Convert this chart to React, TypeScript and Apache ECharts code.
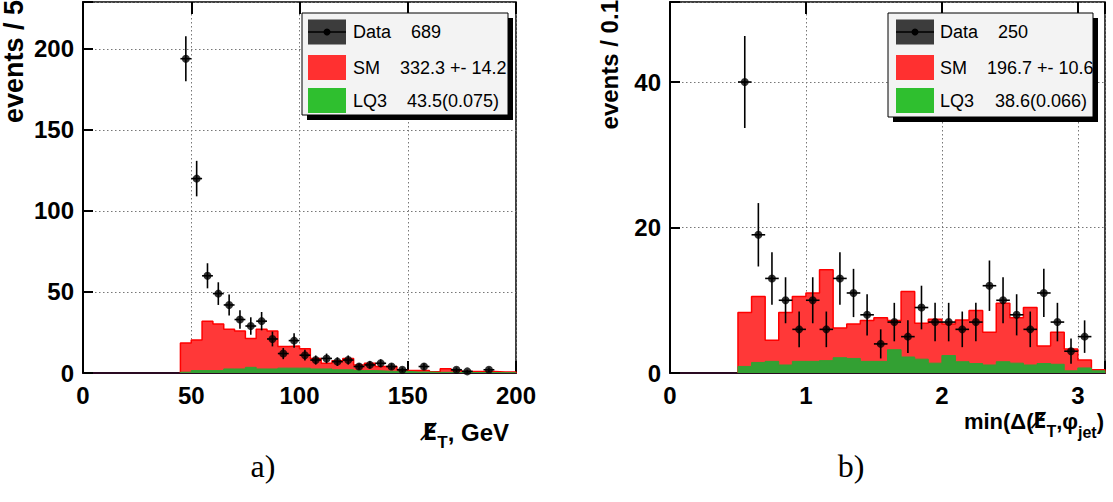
import React, { useEffect, useRef } from "react";
import * as echarts from "echarts";

// ---------- Left panel: missing ET ----------
const etBinWidth = 5;
const etBinLow = [45, 50, 55, 60, 65, 70, 75, 80, 85, 90, 95, 100, 105, 110, 115, 120, 125, 130, 135, 140, 145, 150, 155, 160, 165, 170, 175, 180, 185, 190, 195];
const etSM = [18.5, 20.3, 32, 30.2, 27, 26, 21.3, 27, 26, 16.4, 16.6, 15, 9, 6, 7.5, 9, 5, 6, 4, 4, 2, 1.5, 1.5, 0.7, 2.7, 1.5, 1, 1, 1, 0.6, 0.6];
const etLQ3 = [0.5, 1.5, 1.5, 1.5, 2.5, 2.5, 3.5, 2.5, 2.5, 3, 3, 3, 2.5, 2.5, 2, 2, 1.5, 1.5, 1.2, 1, 1, 0.6, 0.6, 0.4, 0.4, 0.3, 0.3, 0.3, 0.3, 0.2, 0.2];
const etDataX = [47.5, 52.5, 57.5, 62.5, 67.5, 72.5, 77.5, 82.5, 87.5, 92.5, 97.5, 102.5, 107.5, 112.5, 117.5, 122.5, 127.5, 132.5, 137.5, 142.5, 147.5, 157.5, 172.5, 177.5, 187.5];
const etDataY = [194, 120, 60, 49, 42, 33, 29, 32, 21, 12, 20, 11, 8, 9, 7, 8, 4, 5, 6, 4, 2, 4, 2, 1, 2];
const etTicks = ["0", "50", "100", "150", "200"];

// ---------- Right panel: min delta phi ----------
const dphiBinWidth = 0.1;
const dphiBinLow = [0.5, 0.6, 0.7, 0.8, 0.9, 1.0, 1.1, 1.2, 1.3, 1.4, 1.5, 1.6, 1.7, 1.8, 1.9, 2.0, 2.1, 2.2, 2.3, 2.4, 2.5, 2.6, 2.7, 2.8, 2.9, 3.0, 3.1];
const dphiSM = [8.3, 10.5, 4.5, 8.3, 10.5, 11, 14.2, 6.2, 6.75, 7.2, 7.6, 7.2, 11.2, 6.85, 7.4, 6.75, 7.3, 8.6, 5.6, 9.6, 7.6, 9.0, 3.7, 5.6, 3.3, 1.8, 0.45];
const dphiLQ3 = [0.9, 1.45, 1.6, 1.1, 1.6, 1.6, 1.7, 2.1, 2.0, 1.6, 1.6, 3.2, 2.2, 1.9, 1.35, 2.4, 1.55, 1.3, 1.1, 1.55, 1.35, 1.1, 1.3, 1.2, 0.3, 0.7, 0.3];
const dphiDataX = [0.55, 0.65, 0.75, 0.85, 0.95, 1.05, 1.15, 1.25, 1.35, 1.45, 1.55, 1.65, 1.75, 1.85, 1.95, 2.05, 2.15, 2.25, 2.35, 2.45, 2.55, 2.65, 2.75, 2.85, 2.95, 3.05];
const dphiDataY = [40, 19, 13, 10, 6, 10, 6, 13, 11, 8, 4, 7, 5, 9, 7, 7, 6, 7, 12, 10, 8, 6, 11, 7, 3, 5];
const dphiTicks = ["0", "1", "2", "3"];

// ---------- Legend texts ----------
const legendLeft = [["Data", "689"], ["SM", "332.3 +- 14.2"], ["LQ3", "43.5(0.075)"]];
const legendRight = [["Data", "250"], ["SM", "196.7 +- 10.6"], ["LQ3", "38.6(0.066)"]];

const RED_FILL = "#ff3838";
const RED_LINE = "#ff0000";
const GREEN_FILL = "#33a033";
const FONT_FAMILY = '"Liberation Sans", Arial, "DejaVu Sans", sans-serif';
const DV = '"DejaVu Sans Condensed", "DejaVu Sans", sans-serif';
const BOLD = `bold 24px ${FONT_FAMILY}`;
const ESLASH = "E\u0338";

function stepData(lows: number[], width: number, vals: number[]) {
  const d: number[][] = [[lows[0], 0]];
  lows.forEach((x, i) => d.push([x, vals[i]]));
  const end = lows[lows.length - 1] + width;
  d.push([end, vals[vals.length - 1]]);
  d.push([end, 0]);
  return d;
}

function errData(xs: number[], ys: number[], halfW: number) {
  return xs.map((x, i) => [x, ys[i], Math.sqrt(ys[i]), halfW]);
}

function errRender(params: any, api: any) {
  const x = api.value(0);
  const y = api.value(1);
  const e = api.value(2);
  const hw = api.value(3);
  const top = api.coord([x, y + e]);
  const bot = api.coord([x, Math.max(0, y - e)]);
  const l = api.coord([x - hw, y]);
  const r = api.coord([x + hw, y]);
  const st = { stroke: "#000", lineWidth: 1.6 };
  return {
    type: "group",
    children: [
      { type: "line", shape: { x1: top[0], y1: top[1], x2: bot[0], y2: bot[1] }, style: st },
      { type: "line", shape: { x1: l[0], y1: l[1], x2: r[0], y2: r[1] }, style: st },
    ],
  };
}

function xAxisCfg(gridIndex: number, min: number, max: number, interval: number, labels: string[], top: boolean) {
  return {
    type: "value",
    gridIndex,
    position: top ? "top" : "bottom",
    min,
    max,
    interval,
    axisLine: { show: !top, lineStyle: { color: "#2a0a22", width: 2 } },
    axisTick: { show: true, inside: true, length: 12, lineStyle: { color: "#000", width: 2 } },
    axisLabel: {
      show: !top,
      margin: 10,
      color: "#000",
      fontFamily: FONT_FAMILY,
      fontWeight: "bold",
      fontSize: 24,
      formatter: (v: number) => {
        const idx = Math.round(v / interval);
        return Math.abs(v - idx * interval) < 1e-6 && labels[idx] !== undefined ? labels[idx] : "";
      },
    },
    splitLine: {
      show: !top,
      lineStyle: { color: "#777", type: [1.5, 2.5], width: 1 },
    },
  };
}

function yAxisCfg(gridIndex: number, max: number, interval: number) {
  return {
    type: "value",
    gridIndex,
    min: 0,
    max,
    interval,
    axisLine: { show: true, lineStyle: { color: "#000", width: 2 } },
    axisTick: { show: true, inside: true, length: 10, lineStyle: { color: "#000", width: 2 } },
    axisLabel: {
      margin: 9,
      color: "#000",
      fontFamily: FONT_FAMILY,
      fontWeight: "bold",
      fontSize: 24,
      padding: [7, 0, 0, 0],
      formatter: (v: number) => (Math.abs(v / interval - Math.round(v / interval)) < 1e-6 ? String(v) : ""),
    },
    splitLine: { show: true, lineStyle: { color: "#777", type: [1.5, 2.5], width: 1 } },
  };
}

function legendGraphic(bx: number, by: number, bw: number, bh: number, swX: number, txtX: number, valX: number[], rows: string[][]) {
  const rowY = [32, 67.5, 100.5];
  const items: any[] = [
    { type: "rect", z: 100, shape: { x: bx + 5, y: by + 5, width: bw, height: bh }, style: { fill: "#000" } },
    { type: "rect", z: 101, shape: { x: bx, y: by, width: bw, height: bh }, style: { fill: "#f3f3f3", stroke: "#000", lineWidth: 1 } },
    { type: "rect", z: 102, shape: { x: swX, y: rowY[0] - 12.5, width: 38, height: 25 }, style: { fill: "#3c3c3c" } },
    { type: "line", z: 103, shape: { x1: swX, y1: rowY[0], x2: swX + 38, y2: rowY[0] }, style: { stroke: "#000", lineWidth: 1.5 } },
    { type: "circle", z: 103, shape: { cx: swX + 19, cy: rowY[0], r: 3.5 }, style: { fill: "#000" } },
    { type: "rect", z: 102, shape: { x: swX, y: rowY[1] - 12.5, width: 38, height: 25 }, style: { fill: "#ff3030" } },
    { type: "rect", z: 102, shape: { x: swX, y: rowY[2] - 12.5, width: 38, height: 25 }, style: { fill: "#2fbf2f" } },
  ];
  rows.forEach((r, i) => {
    items.push({
      type: "text", z: 103, x: txtX, y: rowY[i],
      style: { text: r[0], font: `18px ${FONT_FAMILY}`, fill: "#000", align: "left", verticalAlign: "middle", textAlign: "left", textVerticalAlign: "middle" },
    });
    items.push({
      type: "text", z: 103, x: valX[i], y: rowY[i],
      style: { text: r[1], font: `18px ${FONT_FAMILY}`, fill: "#000", align: "left", verticalAlign: "middle", textAlign: "left", textVerticalAlign: "middle" },
    });
  });
  return items;
}

function txt(x: number, y: number, text: string, font: string, align = "left", extra: any = {}) {
  return {
    type: "text", z: 110, x, y, ...extra,
    style: { text, font, fill: "#000", align, verticalAlign: "middle", textAlign: align, textVerticalAlign: "middle" },
  };
}

let measureCtx: CanvasRenderingContext2D | null = null;
function textWidth(text: string, font: string) {
  if (!measureCtx) measureCtx = document.createElement("canvas").getContext("2d");
  if (!measureCtx) return text.length * 12;
  measureCtx.font = font;
  return measureCtx.measureText(text).width;
}

// parts: [text, font, dy]
function chainRight(endX: number, y: number, parts: [string, string, number][]) {
  const widths = parts.map((p) => textWidth(p[0], p[1]));
  let x = endX - widths.reduce((a, b) => a + b, 0);
  const els: any[] = [];
  parts.forEach((p, i) => {
    els.push(txt(x, y + p[2], p[0], p[1]));
    x += widths[i];
  });
  return els;
}

export default function App() {
  const ref = useRef<HTMLDivElement>(null);
  useEffect(() => {
    if (!ref.current) return;
    const chart = echarts.init(ref.current, null, { renderer: "svg" });
    const sub = `bold 16px ${FONT_FAMILY}`;
    const mid = `bold 22px ${FONT_FAMILY}`;
    const option: any = {
      animation: false,
      backgroundColor: "#fff",
      grid: [
        { left: 83, top: 2, width: 433, height: 371, show: true, borderColor: "#000", borderWidth: 1.5, backgroundColor: "transparent" },
        { left: 670, top: 2, width: 435, height: 371, show: true, borderColor: "#000", borderWidth: 1.5, backgroundColor: "transparent" },
      ],
      xAxis: [
        xAxisCfg(0, 0, 200, 50, etTicks, false),
        xAxisCfg(0, 0, 200, 50, etTicks, true),
        xAxisCfg(1, 0, 3.2, 1, dphiTicks, false),
        xAxisCfg(1, 0, 3.2, 1, dphiTicks, true),
      ],
      yAxis: [yAxisCfg(0, 229, 50), yAxisCfg(1, 51, 20)],
      series: [
        {
          type: "line", xAxisIndex: 0, yAxisIndex: 0, step: "end", symbol: "none",
          data: stepData(etBinLow, etBinWidth, etSM),
          lineStyle: { color: RED_LINE, width: 1.5 }, areaStyle: { color: RED_FILL, opacity: 1 }, z: 2,
        },
        {
          type: "line", xAxisIndex: 0, yAxisIndex: 0, step: "end", symbol: "none",
          data: stepData(etBinLow, etBinWidth, etLQ3),
          lineStyle: { color: GREEN_FILL, width: 1 }, areaStyle: { color: GREEN_FILL, opacity: 1 }, z: 3,
        },
        {
          type: "custom", xAxisIndex: 0, yAxisIndex: 0, renderItem: errRender, clip: true,
          data: errData(etDataX, etDataY, etBinWidth / 2), z: 4,
        },
        {
          type: "scatter", xAxisIndex: 0, yAxisIndex: 0, symbol: "circle", symbolSize: 8,
          itemStyle: { color: "#000" }, data: etDataX.map((x, i) => [x, etDataY[i]]), z: 5,
        },
        {
          type: "line", xAxisIndex: 2, yAxisIndex: 1, step: "end", symbol: "none",
          data: stepData(dphiBinLow, dphiBinWidth, dphiSM),
          lineStyle: { color: RED_LINE, width: 1.5 }, areaStyle: { color: RED_FILL, opacity: 1 }, z: 2,
        },
        {
          type: "line", xAxisIndex: 2, yAxisIndex: 1, step: "end", symbol: "none",
          data: stepData(dphiBinLow, dphiBinWidth, dphiLQ3),
          lineStyle: { color: GREEN_FILL, width: 1 }, areaStyle: { color: GREEN_FILL, opacity: 1 }, z: 3,
        },
        {
          type: "custom", xAxisIndex: 2, yAxisIndex: 1, renderItem: errRender, clip: true,
          data: errData(dphiDataX, dphiDataY, dphiBinWidth / 2), z: 4,
        },
        {
          type: "scatter", xAxisIndex: 2, yAxisIndex: 1, symbol: "circle", symbolSize: 8,
          itemStyle: { color: "#000" }, data: dphiDataX.map((x, i) => [x, dphiDataY[i]]), z: 5,
        },
      ],
      graphic: [
        ...legendGraphic(302, 13, 206, 102, 308, 353, [411, 400, 407], legendLeft),
        ...legendGraphic(888, 13, 205, 104, 896, 940, [998, 987, 995], legendRight),
        // y titles
        txt(14, 0, "events / 5", `bold 27px ${FONT_FAMILY}`, "right", { rotation: Math.PI / 2 }),
        txt(609, 0, "events / 0.1", BOLD, "right", { rotation: Math.PI / 2 }),
        // left x title: E-slash T, GeV
        ...chainRight(509, 432, [
          [ESLASH, `bold 23px ${DV}`, 0],
          ["T", `bold 17px ${FONT_FAMILY}`, 10],
          [", GeV", BOLD, 0],
        ]),
        // right x title: min(Δ(E-slash T, φ jet)
        ...chainRight(1104, 421, [
          ["min(Δ(", mid, 0],
          [ESLASH, `bold 21px ${DV}`, 0],
          ["T", sub, 10],
          [",", mid, 0],
          ["φ", mid, 0],
          ["jet", sub, 11],
          [")", mid, 0],
        ]),
        // captions
        txt(263, 466, "a)", '32px "Liberation Serif", "DejaVu Serif", serif', "center"),
        txt(851, 466, "b)", '32px "Liberation Serif", "DejaVu Serif", serif', "center"),
      ],
    };
    chart.setOption(option);
    return () => chart.dispose();
  }, []);
  return (
    <div
      ref={ref}
      style={{ position: "fixed", left: 0, top: 0, width: 1113, height: 502, background: "#fff" }}
    />
  );
}
